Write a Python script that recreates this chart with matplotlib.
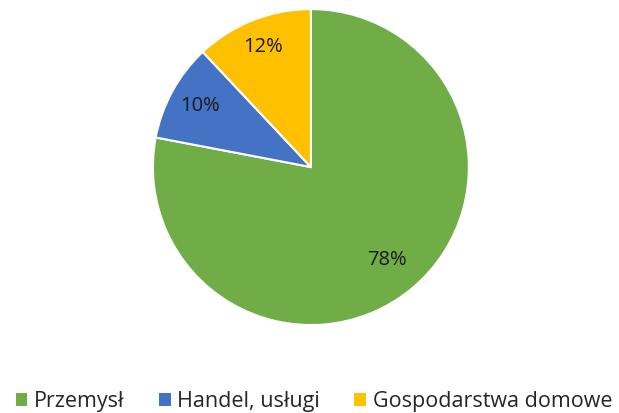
import matplotlib.pyplot as plt
from matplotlib.patches import Patch
import numpy as np

categories = ["Przemysł", "Handel, usługi", "Gospodarstwa domowe"]
values = [78, 10, 12]
colors = ["#70AD47", "#4472C4", "#FFC000"]

plt.rcParams['font.family'] = ['Open Sans', 'DejaVu Sans']

fig = plt.figure(figsize=(6.19, 4.13), dpi=100)
ax = fig.add_axes([0.247, 0.213, 0.5105, 0.765])
wedges, texts = ax.pie(values, colors=colors, startangle=90, counterclock=False,
                       wedgeprops=dict(edgecolor='white', linewidth=1.5))
labels_pos = [0.76, 0.80, 0.82]
for w, v, d in zip(wedges, values, labels_pos):
    ang = np.deg2rad((w.theta1 + w.theta2) / 2)
    ax.text(d * np.cos(ang), d * np.sin(ang), f"{v}%", ha='center', va='center',
            fontsize=14.5, color='#1a1a1a')
ax.set_xlim(-1, 1)
ax.set_ylim(-1, 1)
ax.set_aspect('equal')

handles = [Patch(facecolor=c, edgecolor='none') for c in colors]
fig.legend(handles, categories, loc='center', bbox_to_anchor=(0.507, 0.028), ncol=3,
           frameon=False, fontsize=15.5, handlelength=0.55, handleheight=0.55,
           handletextpad=0.3, columnspacing=1.6, labelcolor='#262626')
fig.savefig("out.png", dpi=100)
